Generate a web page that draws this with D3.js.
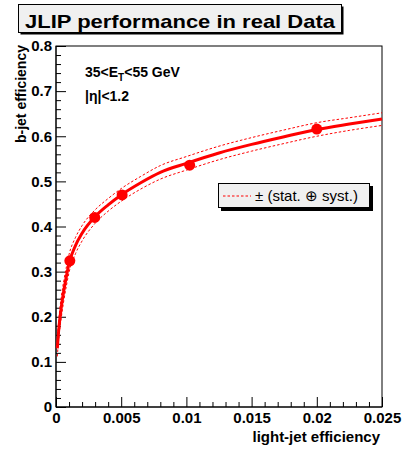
<!DOCTYPE html>
<html>
<head>
<meta charset="utf-8">
<script src="https://cdn.jsdelivr.net/npm/d3@7"></script>
<style>
  html, body { margin: 0; padding: 0; background: #fff; }
  svg { display: block; font-family: "Liberation Sans", Arial, Helvetica, sans-serif; }
</style>
</head>
<body>
<svg id="chart" width="403" height="450"></svg>
<script>
// Measured b-tagging efficiency vs light-jet mistag rate
const effX = [0.00106, 0.00297, 0.00507, 0.01025, 0.0200];
const effY = [0.324, 0.420, 0.470, 0.536, 0.616];

// Parametrised efficiency curve and its uncertainty band
const fitX  = [0.0001, 0.0002, 0.0004, 0.0006, 0.0008, 0.001, 0.0015, 0.002, 0.003, 0.004, 0.005, 0.0065, 0.008, 0.01, 0.0125, 0.015, 0.0175, 0.02, 0.0225, 0.025];
const fitY  = [0.130, 0.168, 0.220, 0.258, 0.290, 0.318, 0.358, 0.385, 0.422, 0.448, 0.470, 0.497, 0.520, 0.540, 0.563, 0.582, 0.599, 0.615, 0.627, 0.638];
const bandUp = [0.148, 0.188, 0.243, 0.280, 0.311, 0.338, 0.376, 0.402, 0.437, 0.462, 0.484, 0.511, 0.535, 0.555, 0.578, 0.597, 0.614, 0.630, 0.641, 0.652];
const bandLo = [0.112, 0.148, 0.197, 0.236, 0.269, 0.298, 0.340, 0.368, 0.407, 0.434, 0.456, 0.483, 0.505, 0.525, 0.548, 0.567, 0.584, 0.600, 0.613, 0.624];

const xMajor = [0, 0.005, 0.01, 0.015, 0.02, 0.025];
const xLabels = ["0", "0.005", "0.01", "0.015", "0.02", "0.025"];
const yMajor = [0, 0.1, 0.2, 0.3, 0.4, 0.5, 0.6, 0.7, 0.8];
const yLabels = ["0", "0.1", "0.2", "0.3", "0.4", "0.5", "0.6", "0.7", "0.8"];

const titleText = "JLIP performance in real Data";
const xTitle = "light-jet efficiency";
const yTitle = "b-jet efficiency";
const legendText = "\u00B1 (stat. \u2295 syst.)";

const svg = d3.select("#chart");
const L = 56, R = 382, T = 46, B = 407;

const x = d3.scaleLinear().domain([0, 0.025]).range([L, R]);
const y = d3.scaleLinear().domain([0, 0.8]).range([B, T]);

// minor tick positions
const xMinor = d3.range(0, 26).map(i => i * 0.001).filter(v => !xMajor.some(m => Math.abs(m - v) < 1e-9));
const yMinor = d3.range(0, 41).map(i => i * 0.02).filter(v => !yMajor.some(m => Math.abs(m - v) < 1e-9));

// frame
svg.append("rect").attr("x", L).attr("y", T).attr("width", R - L).attr("height", B - T)
  .attr("fill", "#fff").attr("stroke", "#000").attr("stroke-width", 1);

// x axis
const gx = svg.append("g").attr("transform", `translate(0,${B})`);
gx.call(d3.axisBottom(x).tickValues(xMajor).tickFormat((d, i) => xLabels[i])
  .tickSizeInner(-10).tickSizeOuter(0).tickPadding(5));
const gxm = svg.append("g").attr("transform", `translate(0,${B})`);
gxm.call(d3.axisBottom(x).tickValues(xMinor).tickFormat("").tickSizeInner(-5).tickSizeOuter(0));

// y axis
const gy = svg.append("g").attr("transform", `translate(${L},0)`);
gy.call(d3.axisLeft(y).tickValues(yMajor).tickFormat((d, i) => yLabels[i])
  .tickSizeInner(-10).tickSizeOuter(0).tickPadding(4));
const gym = svg.append("g").attr("transform", `translate(${L},0)`);
gym.call(d3.axisLeft(y).tickValues(yMinor).tickFormat("").tickSizeInner(-5).tickSizeOuter(0));

[gx, gxm, gy, gym].forEach(g => {
  g.select(".domain").remove();
  g.selectAll(".tick line").attr("stroke", "#000").attr("stroke-width", 1);
  g.selectAll(".tick text").attr("fill", "#000").attr("font-size", 15)
    .attr("font-weight", "bold").attr("font-family", "Liberation Sans, Arial, sans-serif");
});
gx.selectAll(".tick text").attr("dy", "0.71em");

// axis lines on top of frame
svg.append("line").attr("x1", L).attr("x2", L).attr("y1", T).attr("y2", B).attr("stroke", "#000");
svg.append("line").attr("x1", L).attr("x2", R).attr("y1", B).attr("y2", B).attr("stroke", "#000");

// axis titles
svg.append("text").attr("x", 380).attr("y", 442).attr("text-anchor", "end")
  .attr("font-size", 15).attr("font-weight", "bold").text(xTitle);
svg.append("text").attr("transform", "translate(26,45) rotate(-90)").attr("text-anchor", "end")
  .attr("font-size", 14).attr("font-weight", "bold").text(yTitle);

// curves
const pts = (ys) => fitX.map((v, i) => [v, ys[i]]);
const line = d3.line().x(d => x(d[0])).y(d => y(d[1])).curve(d3.curveMonotoneX);

[bandUp, bandLo].forEach(b => {
  svg.append("path").attr("d", line(pts(b))).attr("fill", "none")
    .attr("stroke", "#ff0000").attr("stroke-width", 1).attr("stroke-dasharray", "2.5,2");
});
svg.append("path").attr("d", line(pts(fitY))).attr("fill", "none")
  .attr("stroke", "#ff0000").attr("stroke-width", 3);

// measured points
svg.selectAll("circle.pt").data(effX).enter().append("circle").attr("class", "pt")
  .attr("cx", d => x(d)).attr("cy", (d, i) => y(effY[i])).attr("r", 5.5).attr("fill", "#ff0000");

// kinematic cuts
const note = svg.append("text").attr("x", 85).attr("y", 77).attr("font-size", 14).attr("font-weight", "bold");
note.append("tspan").text("35<E");
note.append("tspan").attr("font-size", 10).attr("dy", 4).text("T");
note.append("tspan").attr("dy", -4).text("<55 GeV");
svg.append("text").attr("x", 85).attr("y", 101).attr("font-size", 14).attr("font-weight", "bold")
  .text("|\u03B7|<1.2");

// legend
svg.append("rect").attr("x", 221).attr("y", 186).attr("width", 152).attr("height", 25).attr("fill", "#000");
svg.append("rect").attr("x", 218.5).attr("y", 183.5).attr("width", 151).attr("height", 24)
  .attr("fill", "#f0f0f0").attr("stroke", "#000").attr("stroke-width", 1);
svg.append("line").attr("x1", 223).attr("x2", 251).attr("y1", 196).attr("y2", 196)
  .attr("stroke", "#ff0000").attr("stroke-width", 1).attr("stroke-dasharray", "2.5,2");
svg.append("text").attr("x", 255).attr("y", 201).attr("font-size", 15).text(legendText);

// title box
svg.append("rect").attr("x", 20.5).attr("y", 6.5).attr("width", 323).attr("height", 28).attr("fill", "#000");
svg.append("rect").attr("x", 18.5).attr("y", 4.5).attr("width", 323).attr("height", 28)
  .attr("fill", "#f0f0f0").attr("stroke", "#000").attr("stroke-width", 1);
svg.append("text").attr("x", 25).attr("y", 28).attr("font-size", 19).attr("font-weight", "bold")
  .attr("textLength", 310).attr("lengthAdjust", "spacingAndGlyphs").text(titleText);
</script>
</body>
</html>
